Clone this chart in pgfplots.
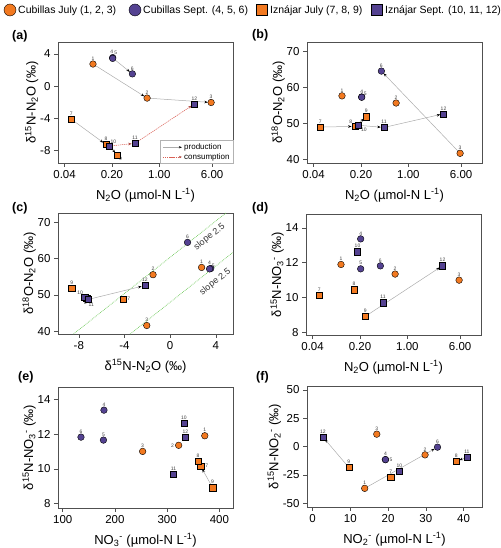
\documentclass[border=0pt]{standalone}
\usepackage{fontspec}
\setmainfont{Liberation Sans}
\usepackage{pgfplots}
\usepackage{pgfplotstable}
\pgfplotsset{compat=1.18}
\usetikzlibrary{arrows.meta,positioning}
\definecolor{orC}{RGB}{242,121,32}
\definecolor{puC}{RGB}{84,66,145}
\definecolor{frameC}{RGB}{80,80,80}
\definecolor{consC}{RGB}{218,95,85}
\definecolor{slopeC}{RGB}{110,200,90}

\pgfplotstableread{
id n2o d15 d18 d15no3 no3 no2 d15no2
1 0.105 2.75 57.6 11.90 372 13.8 -37.0
2 0.66 -1.50 55.6 11.35 322 29.8 -7.4
3 5.8 -2.05 41.6 11.00 253 17.0 10.9
}\cubJul
\pgfplotstableread{
id n2o d15 d18 d15no3 no3 no2 d15no2
4 0.205 3.55 57.3 13.37 179 19.3 -11.6
5 0.205 3.45 57.2 11.65 178 19.3 -11.6
6 0.40 1.52 64.5 11.82 135 33.1 -0.6
}\cubSep
\pgfplotstableread{
id n2o d15 d18 d15no3 no3 no2 d15no2
7 0.05 -4.12 48.9 10.15 364 20.7 -26.9
8 0.163 -7.30 49.1 10.45 359 38.1 -13.3
9 0.24 -8.62 51.8 8.92 387 9.6 -18.6
}\izJul
\pgfplotstableread{
id n2o d15 d18 d15no3 no3 no2 d15no2
10 0.184 -7.48 49.4 12.63 332 23.0 -21.6
11 0.437 -7.15 48.8 9.70 312 40.9 -9.2
12 3.3 -2.22 52.6 11.83 335 2.7 8.5
}\izSep

\tikzset{
 lbl/.style={font=\fontsize{5}{5}\selectfont, text=black!75, inner sep=0pt},
 prod/.style={draw=gray!65, line width=0.5pt, -{Stealth[length=3.5pt,width=2.6pt,black]}, shorten >=3.3pt, shorten <=2pt},
 cons/.style={draw=consC, line width=0.5pt, dash pattern=on 1.3pt off 0.8pt, -{Stealth[length=3.5pt,width=2.6pt,consC!80!black]}, shorten >=3.3pt, shorten <=2pt},
}
\newcommand\lab[4][above=3.6pt]{\node[lbl,#1] at (axis cs:#2,#3) {#4};}

\pgfplotsset{
 panel/.style={scale only axis, width=175pt, height=121pt,
  axis line style={frameC, line width=0.6pt},
  tick style={frameC, line width=0.5pt},
  tick align=outside, xtick pos=bottom, ytick pos=left,
  major tick length=4pt,
  ticklabel style={font=\fontsize{11.5}{13}\selectfont},
  label style={font=\fontsize{13}{15}\selectfont},
  xlabel shift=3pt, ylabel shift=-5pt,
  /pgf/number format/assume math mode=true,
  clip=false},
 mcj/.style={only marks, mark=*, mark size=3.3pt, mark options={fill=orC,draw=black,line width=0.4pt}},
 mcs/.style={only marks, mark=*, mark size=3.3pt, mark options={fill=puC,draw=black,line width=0.4pt}},
 mij/.style={only marks, mark=square*, mark size=3.1pt, mark options={fill=orC,draw=black,line width=0.4pt}},
 mis/.style={only marks, mark=square*, mark size=3.1pt, mark options={fill=puC,draw=black,line width=0.4pt}},
}
\newcommand\nlab{N\textsubscript{2}O (µmol-N L\textsuperscript{-1})}

\begin{document}
\begin{tikzpicture}[x=1pt,y=1pt]
\useasboundingbox (0,0) rectangle (500,548);

% top legend
\node[circle, fill=orC, draw=black, line width=0.4pt, minimum size=12pt, inner sep=0pt] at (10,538) {};
\node[anchor=west, font=\fontsize{10.5}{12}\selectfont, inner sep=0pt] at (18,537.5) {Cubillas July (1, 2, 3)};
\node[circle, fill=puC, draw=black, line width=0.4pt, minimum size=12pt, inner sep=0pt] at (135,538) {};
\node[anchor=west, font=\fontsize{10.5}{12}\selectfont, inner sep=0pt] at (143,537.5) {Cubillas Sept. (4, 5, 6)};
\node[rectangle, fill=orC, draw=black, line width=0.4pt, minimum size=11pt, inner sep=0pt] at (262,538) {};
\node[anchor=west, font=\fontsize{10.5}{12}\selectfont, inner sep=0pt] at (270,537.5) {Iznájar July (7, 8, 9)};
\node[rectangle, fill=puC, draw=black, line width=0.4pt, minimum size=11pt, inner sep=0pt] at (377,538) {};
\node[anchor=west, font=\fontsize{10.5}{12}\selectfont, inner sep=0pt] at (385,537.5) {Iznájar Sept. (10, 11, 12)};

% (a)
\begin{axis}[panel, xmode=log, xmin=0.032, xmax=12.2, xtick={0.04,0.2,1,6}, xticklabels={0.04,0.20,1.00,6.00},
  xlabel={\nlab}, at={(58pt,385pt)}, anchor=south west,
  ymin=-9.6, ymax=5.5, ytick={-8,-4,0,4}, yticklabels={-8,-4,0,4},
  ylabel={δ\textsuperscript{15}N-N\textsubscript{2}O (‰)}]
\addplot[prod] coordinates {(0.105,2.75) (0.66,-1.5)};
\addplot[prod] coordinates {(0.66,-1.5) (5.8,-2.05)};
\addplot[prod] coordinates {(0.205,3.5) (0.40,1.52)};
\addplot[prod] coordinates {(0.05,-4.12) (0.163,-7.3)};
\addplot[prod] coordinates {(0.184,-7.48) (0.24,-8.62)};
\addplot[cons] coordinates {(0.184,-7.48) (0.437,-7.15)};
\addplot[cons] coordinates {(0.437,-7.15) (3.3,-2.22)};
\addplot[mcj] table[x=n2o,y=d15]{\cubJul};
\addplot[mcs] table[x=n2o,y=d15]{\cubSep};
\addplot[mij] table[x=n2o,y=d15]{\izJul};
\addplot[mis] table[x=n2o,y=d15]{\izSep};
\lab{0.105}{2.75}{1}\lab{0.66}{-1.5}{2}\lab{5.8}{-2.05}{3}
\lab[above=3.8pt, xshift=-1pt]{0.205}{3.55}{4}\lab[above right=2.5pt and 1.5pt]{0.205}{3.55}{5}\lab{0.40}{1.52}{6}
\lab{0.05}{-4.12}{7}\lab{0.163}{-7.3}{8}\lab[below right=1.5pt and 1.5pt]{0.24}{-8.62}{9}
\lab[above right=2pt and 1pt]{0.184}{-7.48}{10}\lab{0.437}{-7.15}{11}\lab{3.3}{-2.22}{12}
\draw[gray!60, line width=0.5pt, fill=white] (rel axis cs:0.587,0) rectangle (rel axis cs:1,0.184);
\draw[gray!65, line width=0.5pt, -{Stealth[length=3pt,width=2.2pt,black]}] (rel axis cs:0.60,0.13) -- (rel axis cs:0.708,0.13);
\node[anchor=west, font=\fontsize{8}{9}\selectfont, inner sep=0pt] at (rel axis cs:0.72,0.13) {production};
\draw[consC, line width=0.5pt, dash pattern=on 1.3pt off 0.8pt, -{Stealth[length=3pt,width=2.2pt,consC!80!black]}] (rel axis cs:0.60,0.05) -- (rel axis cs:0.708,0.05);
\node[anchor=west, font=\fontsize{8}{9}\selectfont, inner sep=0pt] at (rel axis cs:0.72,0.05) {consumption};
\end{axis}

% (b)
\begin{axis}[panel, xmode=log, xmin=0.032, xmax=12.2, xtick={0.04,0.2,1,6}, xticklabels={0.04,0.20,1.00,6.00},
  xlabel={\nlab}, at={(307pt,385pt)}, anchor=south west,
  ymin=38.9, ymax=72.6, ytick={40,50,60,70}, yticklabels={40,50,60,70},
  ylabel={δ\textsuperscript{18}O-N\textsubscript{2}O (‰)}]
\addplot[prod] coordinates {(5.8,41.6) (0.40,64.5)};
\addplot[prod] coordinates {(0.05,48.9) (0.163,49.1)};
\addplot[prod] coordinates {(0.163,49.1) (0.24,51.8)};
\addplot[prod] coordinates {(0.184,49.4) (0.437,48.8)};
\addplot[prod] coordinates {(0.437,48.8) (3.3,52.6)};
\addplot[mcj] table[x=n2o,y=d18]{\cubJul};
\addplot[mcs] table[x=n2o,y=d18]{\cubSep};
\addplot[mij] table[x=n2o,y=d18]{\izJul};
\addplot[mis] table[x=n2o,y=d18]{\izSep};
\lab{0.105}{57.6}{1}\lab{0.66}{55.6}{2}\lab{5.8}{41.6}{3}
\lab{0.205}{57.3}{4}\lab[above right=1pt and 2pt]{0.205}{57.3}{5}\lab{0.40}{64.5}{6}
\lab{0.05}{48.9}{7}\lab[above left=2.5pt and 2.5pt]{0.163}{49.1}{8}\lab{0.24}{51.8}{9}
\lab[below right=2.5pt and 2.5pt]{0.184}{49.4}{10}\lab{0.437}{48.8}{11}\lab{3.3}{52.6}{12}
\end{axis}

% (c)
\begin{axis}[panel, at={(58pt,214pt)}, anchor=south west,
  xmin=-9.82, xmax=5.5, xtick={-8,-4,0,4}, xticklabels={-8,-4,0,4},
  ymin=39.26, ymax=72.6, ytick={40,50,60,70}, yticklabels={40,50,60,70},
  xlabel={δ\textsuperscript{15}N-N\textsubscript{2}O (‰)},
  ylabel={δ\textsuperscript{18}O-N\textsubscript{2}O (‰)}]
\addplot[slopeC, densely dotted, line width=0.7pt] coordinates {(-8.46,39.26) (4.88,72.6)};
\addplot[slopeC, densely dotted, line width=0.7pt] coordinates {(-3.5,39.26) (5.5,61.75)};
\node[rotate=38, font=\fontsize{9}{10}\selectfont, text=black!80] at (axis cs:3.45,66.0) {slope 2.5};
\node[rotate=38, font=\fontsize{9}{10}\selectfont, text=black!80] at (axis cs:3.95,53.6) {slope 2.5};
\addplot[prod] coordinates {(-7.15,48.8) (-2.22,52.6)};
\addplot[mcj] table[x=d15,y=d18]{\cubJul};
\addplot[mcs] table[x=d15,y=d18]{\cubSep};
\addplot[mij] table[x=d15,y=d18]{\izJul};
\addplot[mis] table[x=d15,y=d18]{\izSep};
\lab{2.75}{57.6}{1}\lab{-1.5}{55.6}{2}\lab{-2.05}{41.6}{3}
\lab{3.45}{57.3}{4}\lab[above right=1pt and 2pt]{3.45}{57.3}{5}\lab{1.52}{64.5}{6}
\lab[right=4pt]{-4.12}{48.9}{7}\lab[below left=3pt and 0pt]{-7.3}{49.1}{8}\lab{-8.62}{51.8}{9}
\lab[above left=2pt and 1.5pt]{-7.48}{49.4}{10}\lab[below right=3pt and 0pt]{-7.15}{48.8}{11}\lab{-2.22}{52.6}{12}
\end{axis}

% (d)
\begin{axis}[panel, xmode=log, xmin=0.032, xmax=12.2, xtick={0.04,0.2,1,6}, xticklabels={0.04,0.20,1.00,6.00},
  xlabel={\nlab}, at={(306pt,213pt)}, anchor=south west,
  ymin=7.85, ymax=14.8, ytick={8,10,12,14}, yticklabels={8,10,12,14},
  ylabel={δ\textsuperscript{15}N-NO\textsubscript{3}\textsuperscript{-} (‰)}]
\addplot[prod] coordinates {(0.24,8.92) (3.3,11.83)};
\addplot[mcj] table[x=n2o,y=d15no3]{\cubJul};
\addplot[mcs] table[x=n2o,y=d15no3]{\cubSep};
\addplot[mij] table[x=n2o,y=d15no3]{\izJul};
\addplot[mis] table[x=n2o,y=d15no3]{\izSep};
\lab{0.105}{11.9}{1}\lab{0.66}{11.35}{2}\lab{5.8}{11.0}{3}
\lab{0.205}{13.37}{4}\lab{0.205}{11.65}{5}\lab{0.40}{11.82}{6}
\lab{0.05}{10.15}{7}\lab{0.163}{10.45}{8}\lab{0.24}{8.92}{9}
\lab{0.184}{12.63}{10}\lab{0.437}{9.7}{11}\lab{3.3}{11.83}{12}
\end{axis}

% (e)
\begin{axis}[panel, at={(58pt,40pt)}, anchor=south west,
  xmin=91, xmax=426, xtick={100,200,300,400}, xticklabels={100,200,300,400},
  ymin=7.75, ymax=14.7, ytick={8,10,12,14}, yticklabels={8,10,12,14},
  xlabel={NO\textsubscript{3}\textsuperscript{-} (µmol-N L\textsuperscript{-1})},
  ylabel={δ\textsuperscript{15}N-NO\textsubscript{3}\textsuperscript{-} (‰)}]
\addplot[prod] coordinates {(387,8.92) (364,10.15)};
\addplot[mcj] table[x=no3,y=d15no3]{\cubJul};
\addplot[mcs] table[x=no3,y=d15no3]{\cubSep};
\addplot[mij] table[x=no3,y=d15no3]{\izJul};
\addplot[mis] table[x=no3,y=d15no3]{\izSep};
\lab{372}{11.9}{1}\lab[left=4.5pt]{322}{11.35}{2}\lab{253}{11.0}{3}
\lab{179}{13.37}{4}\lab{178}{11.65}{5}\lab{135}{11.82}{6}
\lab[right=4.5pt]{364}{10.15}{7}\lab{359}{10.45}{8}\lab{387}{8.92}{9}
\lab{332}{12.63}{10}\lab{312}{9.7}{11}\lab{335}{11.83}{12}
\end{axis}

% (f)
\begin{axis}[panel, at={(307pt,41pt)}, anchor=south west,
  xmin=-1.5, xmax=44.9, xtick={0,10,20,30,40}, xticklabels={0,10,20,30,40},
  ymin=-53.5, ymax=53.5, ytick={-50,-25,0,25,50}, yticklabels={-50,-25,0,25,50},
  xlabel={NO\textsubscript{2}\textsuperscript{-} (µmol-N L\textsuperscript{-1})},
  ylabel={δ\textsuperscript{15}N-NO\textsubscript{2}\textsuperscript{-} (‰)}]
\addplot[prod] coordinates {(9.6,-18.6) (2.7,8.5)};
\addplot[prod] coordinates {(13.8,-37.0) (33.1,-0.6)};
\addplot[prod] coordinates {(40.9,-9.2) (38.1,-13.3)};
\addplot[mcj] table[x=no2,y=d15no2]{\cubJul};
\addplot[mcs] table[x=no2,y=d15no2]{\cubSep};
\addplot[mij] table[x=no2,y=d15no2]{\izJul};
\addplot[mis] table[x=no2,y=d15no2]{\izSep};
\lab{13.8}{-37.0}{1}\lab{29.8}{-7.4}{2}\lab{17.0}{10.9}{3}
\lab{19.3}{-11.6}{4}\lab[right=4pt]{19.3}{-11.6}{5}\lab{33.1}{-0.6}{6}
\lab{20.7}{-26.9}{7}\lab{38.1}{-13.3}{8}\lab{9.6}{-18.6}{9}
\lab{23.0}{-21.6}{10}\lab{40.9}{-9.2}{11}\lab{2.7}{8.5}{12}
\end{axis}

% panel letters
\node[anchor=west, font=\bfseries\fontsize{12.5}{14}\selectfont, inner sep=0pt] at (12,512) {(a)};
\node[anchor=west, font=\bfseries\fontsize{12.5}{14}\selectfont, inner sep=0pt] at (252,513) {(b)};
\node[anchor=west, font=\bfseries\fontsize{12.5}{14}\selectfont, inner sep=0pt] at (12,340) {(c)};
\node[anchor=west, font=\bfseries\fontsize{12.5}{14}\selectfont, inner sep=0pt] at (252,340) {(d)};
\node[anchor=west, font=\bfseries\fontsize{12.5}{14}\selectfont, inner sep=0pt] at (18,171) {(e)};
\node[anchor=west, font=\bfseries\fontsize{12.5}{14}\selectfont, inner sep=0pt] at (256,171) {(f)};
\end{tikzpicture}
\end{document}
